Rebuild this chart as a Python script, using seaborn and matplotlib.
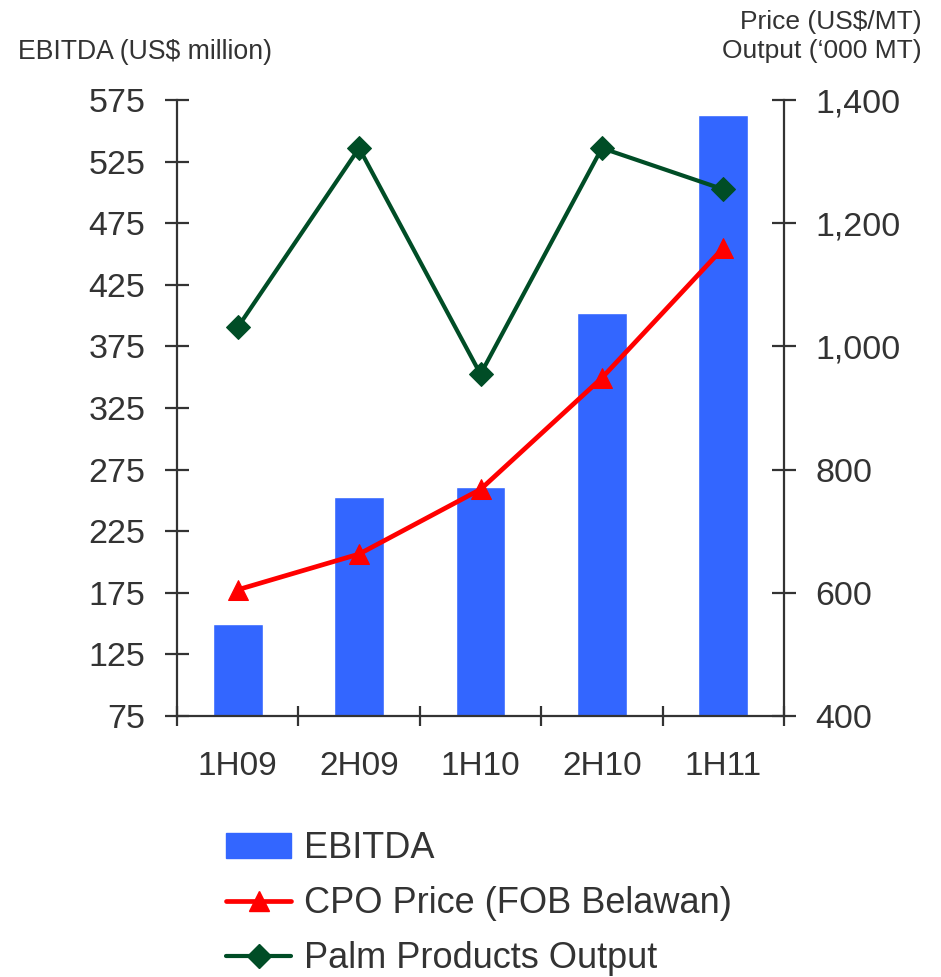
import matplotlib
matplotlib.use("Agg")
import matplotlib.pyplot as plt
import seaborn as sns
import numpy as np
import pandas as pd
from matplotlib.ticker import FuncFormatter, FixedLocator
from matplotlib.lines import Line2D
from matplotlib.patches import Patch

periods = ["1H09", "2H09", "1H10", "2H10", "1H11"]
ebitda = [150, 253, 261, 402, 563]
cpo_price = [605, 663, 768, 949, 1160]
palm_output = [1031, 1322, 955, 1322, 1255]

left_ticks = [75, 125, 175, 225, 275, 325, 375, 425, 475, 525, 575]
right_ticks = [400, 600, 800, 1000, 1200, 1400]

BAR = "#3366FF"
RED = "#FF0000"
GREEN = "#004D26"
TXT = "#333333"

sns.set_theme(style="white")
plt.rcParams["font.family"] = ["Liberation Sans", "DejaVu Sans"]

fig = plt.figure(figsize=(9.41, 9.77), dpi=100)
ax = fig.add_axes([0.1881, 0.2671, 0.8332 - 0.1881, 0.8976 - 0.2671])

df = pd.DataFrame({"period": periods, "ebitda": ebitda})
sns.barplot(data=df, x="period", y="ebitda", color=BAR, width=0.41,
            saturation=1, ax=ax, zorder=1)
ax.set_xlim(-0.5, len(periods) - 0.5)
ax.set_ylim(75, 575)
ax.set_xlabel("")
ax.set_ylabel("")

ax2 = ax.twinx()
xpos = np.arange(len(periods))
sns.lineplot(x=xpos, y=palm_output, ax=ax2, color=GREEN, linewidth=3.0,
             marker="D", markersize=12.5, markeredgecolor=GREEN,
             markerfacecolor=GREEN, zorder=3)
sns.lineplot(x=xpos, y=cpo_price, ax=ax2, color=RED, linewidth=3.4,
             marker="^", markersize=14.5, markeredgecolor=RED,
             markerfacecolor=RED, zorder=4)
ax2.set_ylim(400, 1400)
ax2.set_xlim(-0.5, len(periods) - 0.5)
ax2.set_ylabel("")

for a in (ax, ax2):
    for s in a.spines.values():
        s.set_visible(False)
ax.spines["left"].set_visible(True)
ax.spines["bottom"].set_visible(True)
ax2.spines["right"].set_visible(True)
for s in [ax.spines["left"], ax.spines["bottom"], ax2.spines["right"]]:
    s.set_color(TXT)
    s.set_linewidth(1.6)

ax.yaxis.set_major_locator(FixedLocator(left_ticks))
ax.tick_params(axis="y", direction="inout", length=17.5, width=1.6,
               color=TXT, labelsize=24.5, labelcolor=TXT, pad=14, left=True)
ax2.yaxis.set_major_locator(FixedLocator(right_ticks))
ax2.yaxis.set_major_formatter(FuncFormatter(lambda v, p: f"{int(v):,}"))
ax2.tick_params(axis="y", direction="inout", length=17.5, width=1.6,
                color=TXT, labelsize=24.5, labelcolor=TXT, pad=14, right=True)

# x: category labels at centers, tick marks at boundaries
ax.set_xticks(xpos)
ax.set_xticklabels(periods)
ax.tick_params(axis="x", which="major", length=0, labelsize=24,
               labelcolor=TXT, pad=25)
ax.set_xticks(np.arange(len(periods) + 1) - 0.5, minor=True)
ax.tick_params(axis="x", which="minor", direction="inout", length=15,
               width=1.6, color=TXT, bottom=True)

ax.set_zorder(1)
ax2.set_zorder(2)
ax.patch.set_visible(False)

fig.text(0.019, 0.947, "EBITDA (US$ million)", fontsize=19.2, color=TXT,
         ha="left", va="center")
fig.text(0.979, 0.963, "Price (US$/MT)\nOutput (\u2018000 MT)", fontsize=19,
         color=TXT, ha="right", va="center", linespacing=1.25)

handles = [
    Patch(facecolor=BAR, edgecolor=BAR),
    Line2D([], [], color=RED, lw=3.4, marker="^", markersize=14.5),
    Line2D([], [], color=GREEN, lw=3.0, marker="D", markersize=12.5),
]
labels = ["EBITDA", "CPO Price (FOB Belawan)", "Palm Products Output"]
leg = fig.legend(handles, labels, loc="upper left",
                 bbox_to_anchor=(0.2405, 0.149), frameon=False,
                 fontsize=26, handlelength=1.8, handletextpad=0.35,
                 labelspacing=0.55, borderpad=0, borderaxespad=0,
                 labelcolor=TXT)

fig.savefig("out.png", dpi=100)
